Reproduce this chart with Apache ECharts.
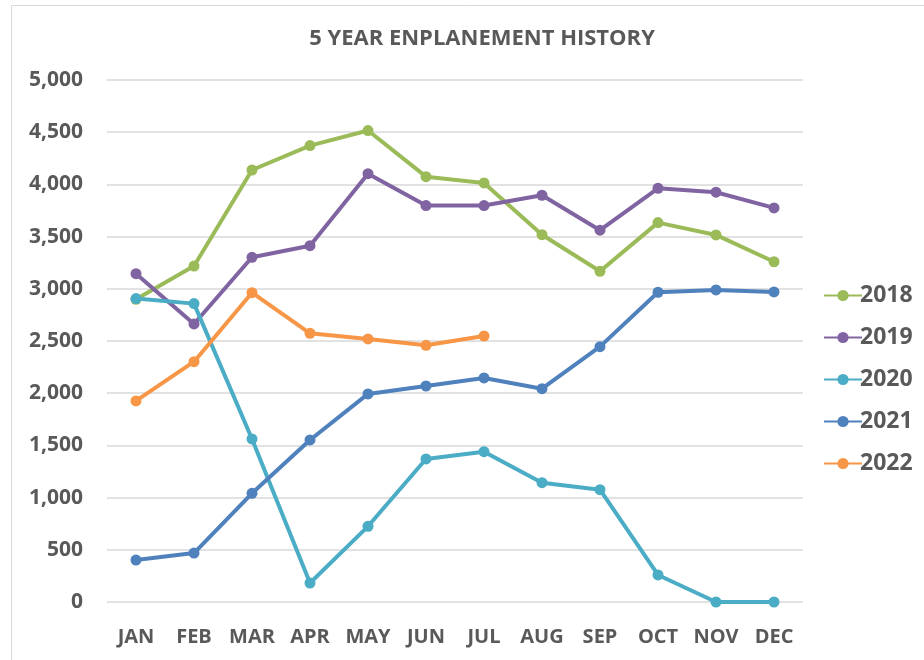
<!DOCTYPE html>
<html><head><meta charset="utf-8">
<script src="https://cdn.jsdelivr.net/npm/echarts@6/dist/echarts.min.js"></script>
<style>html,body{margin:0;padding:0;background:#fff}#c{width:924px;height:660px}</style>
</head><body><div id="c"></div>
<script>
const months = ['JAN','FEB','MAR','APR','MAY','JUN','JUL','AUG','SEP','OCT','NOV','DEC'];
const s2018 = [2899,3218,4138,4372,4516,4074,4014,3518,3168,3634,3516,3259];
const s2019 = [3145,2663,3302,3413,4103,3797,3797,3896,3561,3963,3925,3775];
const s2020 = [2906,2858,1562,182,725,1370,1440,1143,1076,259,0,0];
const s2021 = [402,469,1041,1552,1993,2069,2146,2043,2446,2967,2989,2970];
const s2022 = [1926,2302,2963,2574,2520,2459,2548];
const names = ['2018','2019','2020','2021','2022'];
const colors = ['#9BBB59','#8064A2','#4BACC6','#4F81BD','#F79646'];
const data = [s2018,s2019,s2020,s2021,s2022];
const font = '"Open Sans", sans-serif';
const chart = echarts.init(document.getElementById('c'));
chart.setOption({
  animation:false,
  backgroundColor:'#fff',
  title:{text:'5 YEAR ENPLANEMENT HISTORY',left:477,textAlign:'center',top:23,
    textStyle:{fontFamily:font,fontWeight:'bold',fontSize:22,color:'#595959'}},
  graphic:[{type:'rect',shape:{x:11.5,y:5.5,width:930,height:700},style:{fill:'none',stroke:'#D9D9D9',lineWidth:1}}],
  legend:{orient:'vertical',left:818,top:279,itemGap:19,itemWidth:38,itemHeight:14,
    data:names,textStyle:{fontFamily:font,fontWeight:'bold',fontSize:23,color:'#595959',padding:[0,0,0,-7]}},
  grid:{left:107,right:121,top:80,bottom:58},
  xAxis:{type:'category',data:months,boundaryGap:true,
    axisLine:{show:false},axisTick:{show:false},
    axisLabel:{interval:0,hideOverlap:false,fontFamily:font,fontWeight:'bold',fontSize:20,color:'#595959',margin:25}},
  yAxis:{type:'value',min:0,max:5000,interval:500,
    axisLine:{show:false},axisTick:{show:false},
    splitLine:{lineStyle:{color:'#D9D9D9',width:1.5}},
    axisLabel:{fontFamily:font,fontWeight:'bold',fontSize:21,color:'#595959',margin:24,
      formatter:v=>v.toLocaleString('en-US')}},
  series:names.map((n,i)=>({name:n,type:'line',data:data[i],symbol:'circle',symbolSize:11,
    lineStyle:{width:4,color:colors[i]},itemStyle:{color:colors[i]}}))
});
</script></body></html>
